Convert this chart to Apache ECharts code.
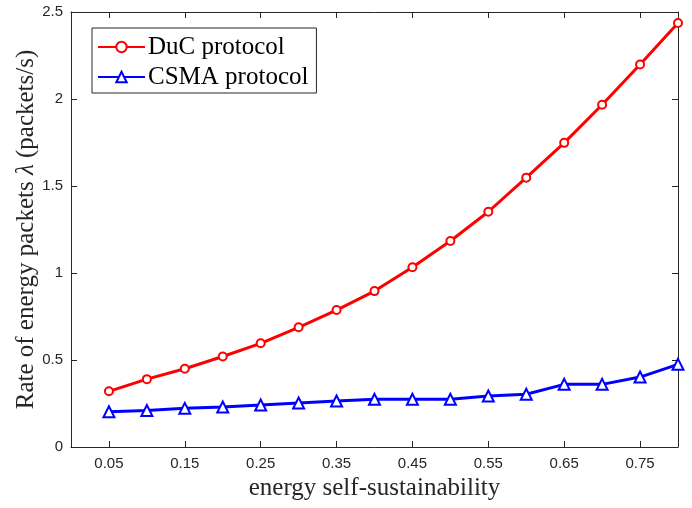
<!DOCTYPE html>
<html>
<head>
<meta charset="utf-8">
<script src="https://cdn.jsdelivr.net/npm/echarts@6/dist/echarts.min.js"></script>
<style>html,body{margin:0;padding:0;background:#fff}#c{width:692px;height:508px}</style>
</head>
<body>
<div id="c"></div>
<script>
var xValues = [0.05,0.10,0.15,0.20,0.25,0.30,0.35,0.40,0.45,0.50,0.55,0.60,0.65,0.70,0.75,0.80];
var ducValues = [0.32,0.39,0.45,0.52,0.596,0.688,0.787,0.896,1.033,1.184,1.352,1.548,1.748,1.967,2.198,2.437];
var csmaValues = [0.203,0.21,0.222,0.23,0.241,0.253,0.264,0.274,0.274,0.274,0.293,0.303,0.36,0.36,0.402,0.475];
var xTicks = [0.05,0.15,0.25,0.35,0.45,0.55,0.65,0.75];
var yTicks = [0,0.5,1,1.5,2,2.5];

function pairs(xs, ys){ return xs.map(function(x,i){ return [x, ys[i]]; }); }

var axisColor = '#262626';
var chart = echarts.init(document.getElementById('c'), null, {renderer:'canvas'});
var tickStyle = {show:true, inside:true, length:6, lineStyle:{color:axisColor, width:1}};
chart.setOption({
  animation:false,
  backgroundColor:'#fff',
  grid:{left:71, right:14, top:12, bottom:61},
  legend:{
    orient:'vertical', left:92, top:28,
    borderColor:axisColor, borderWidth:1, backgroundColor:'#fff',
    padding:[6,8,3,5],
    itemWidth:47, itemHeight:13, itemGap:4,
    textStyle:{fontFamily:'Liberation Serif', fontSize:25, lineHeight:26, color:'#000', padding:[0,0,0,-2]},
    data:['DuC protocol','CSMA protocol']
  },
  xAxis:[{
    type:'value', min:0, max:0.8, position:'bottom',
    axisLine:{show:true, onZero:false, lineStyle:{color:axisColor, width:1}},
    axisTick:Object.assign({customValues:xTicks}, tickStyle),
    axisLabel:{customValues:xTicks, color:axisColor, fontFamily:'Liberation Sans', fontSize:15, margin:9,
      formatter:function(v){ return v.toFixed(2); }},
    splitLine:{show:false},
    name:'energy self-sustainability', nameLocation:'middle', nameGap:29, nameMoveOverlap:false,
    nameTextStyle:{fontFamily:'Liberation Serif', fontSize:25, color:axisColor}
  },{
    type:'value', min:0, max:0.8, position:'top',
    axisLine:{show:true, onZero:false, lineStyle:{color:axisColor, width:1}},
    axisTick:Object.assign({customValues:xTicks}, tickStyle),
    axisLabel:{show:false}, splitLine:{show:false}
  }],
  yAxis:[{
    type:'value', min:0, max:2.5, interval:0.5, position:'left',
    axisLine:{show:true, onZero:false, lineStyle:{color:axisColor, width:1}},
    axisTick:tickStyle,
    axisLabel:{color:axisColor, fontFamily:'Liberation Sans', fontSize:15, margin:8,
      formatter:function(v){ return yTicks.indexOf(v)>=0 ? String(v) : ''; }},
    splitLine:{show:false},
    name:'Rate of energy packets {i|λ} (packets/s)', nameLocation:'middle', nameGap:32, nameMoveOverlap:false,
    nameTextStyle:{fontFamily:'Liberation Serif', fontSize:25, color:axisColor,
      rich:{i:{fontFamily:'Liberation Serif', fontStyle:'italic', fontSize:25, color:axisColor}}}
  },{
    type:'value', min:0, max:2.5, interval:0.5, position:'right',
    axisLine:{show:true, onZero:false, lineStyle:{color:axisColor, width:1}},
    axisTick:tickStyle, axisLabel:{show:false}, splitLine:{show:false}
  }],
  series:[{
    name:'DuC protocol', type:'line', xAxisIndex:0, yAxisIndex:0,
    data:pairs(xValues, ducValues),
    symbol:'emptyCircle', symbolSize:8,
    lineStyle:{color:'#ff0000', width:3},
    itemStyle:{color:'#ff0000', borderColor:'#ff0000', borderWidth:2.5},
    z:3
  },{
    name:'CSMA protocol', type:'line', xAxisIndex:0, yAxisIndex:0,
    data:pairs(xValues, csmaValues),
    symbol:'emptyTriangle', symbolSize:11,
    lineStyle:{color:'#0000ff', width:3},
    itemStyle:{color:'#0000ff', borderColor:'#0000ff', borderWidth:3},
    z:3
  }]
});
</script>
</body>
</html>
